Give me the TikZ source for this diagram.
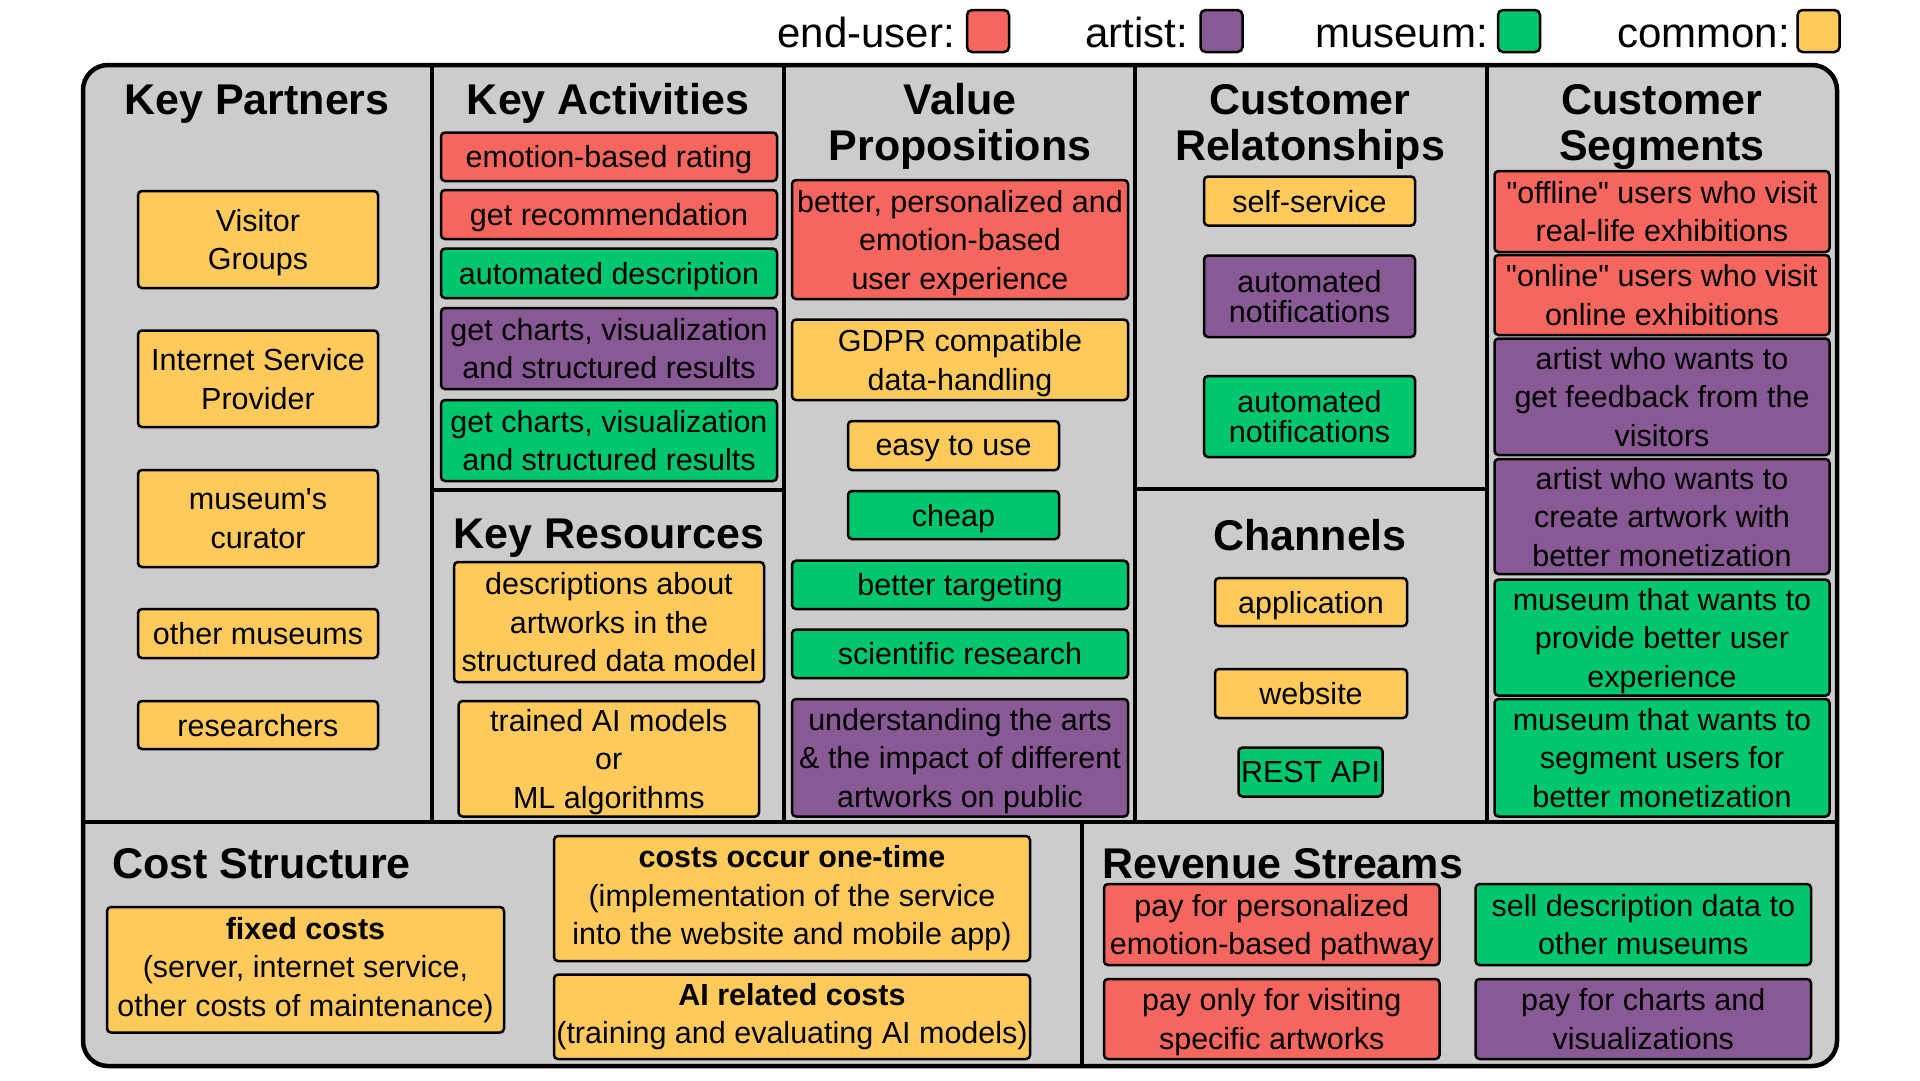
\documentclass[tikz,border=0pt]{standalone}
\usepackage{fontspec}
\newfontfamily\canvasfont{Liberation Sans}
\usepackage{tikz}

\begin{document}
\begin{tikzpicture}[x=1pt,y=-1pt,
  card/.style={draw=black, line width=2.5pt, rounded corners=4pt, align=center, inner sep=0pt, text depth=0pt, font=\canvasfont\fontsize{30.5}{38.5}\selectfont},
  cardTight/.style={card, font=\canvasfont\fontsize{30.5}{30}\selectfont},
  costCard/.style={card, text depth={}},
  cardSize/.style 2 args={minimum width=#1, minimum height=#2},
  blockTitle/.style={anchor=base, align=center, inner sep=0pt, font=\canvasfont\fontsize{43}{46}\selectfont\bfseries},
  legendText/.style={anchor=base east, inner sep=0pt, font=\canvasfont\fontsize{42}{46}\selectfont},
  legendKey/.style={draw=black, line width=2.5pt, rounded corners=5pt, minimum width=42pt, minimum height=42pt, inner sep=0pt}]
\definecolor{endUserRed}{RGB}{244,102,94}
\definecolor{artistPurple}{RGB}{137,89,149}
\definecolor{museumGreen}{RGB}{0,198,110}
\definecolor{commonYellow}{RGB}{254,202,92}
\definecolor{canvasGray}{RGB}{204,204,204}
\useasboundingbox (0,0) rectangle (1920,1080);
% legend
\foreach \keyName/\keyColor/\textX/\keyX/\keyText in {endUser/endUserRed/955/988/end-user:, artist/artistPurple/1188/1221.5/artist:, museum/museumGreen/1488/1519/museum:, common/commonYellow/1790/1818.5/common:} {
  \node[legendText] (\keyName Label) at (\textX,47) {\keyText};
  \node[legendKey, fill=\keyColor] (\keyName Key) at (\keyX,31) {};
}
% canvas frame and dividers
\draw[line width=4.5pt, fill=canvasGray, rounded corners=25pt] (83,65) rectangle (1837,1066);
\begin{scope}[line width=4.5pt]
  \foreach \x in {432,784,1135,1487}
    \draw (\x,65) -- (\x,822);
  \draw (83,822) -- (1837,822);
  \draw (432,490) -- (784,490);
  \draw (1135,489) -- (1487,489);
  \draw (1082,822) -- (1082,1066);
\end{scope}
% block titles (base = last line)
\node[blockTitle] (partnersTitle) at (257,114) {Key Partners};
\node[blockTitle] (activitiesTitle) at (608,114) {Key Activities};
\node[blockTitle] (valueTitle) at (960,160) {Value\\Propositions};
\node[blockTitle] (relationsTitle) at (1310,160) {Customer\\Relatonships};
\node[blockTitle] (segmentsTitle) at (1662,160) {Customer\\Segments};
\node[blockTitle] (resourcesTitle) at (609,548) {Key Resources};
\node[blockTitle] (channelsTitle) at (1310,550) {Channels};
\node[blockTitle, anchor=base west] (costTitle) at (112,878) {Cost Structure};
\node[blockTitle, anchor=base west] (revenueTitle) at (1102,878) {Revenue Streams};
% key partners
\node[card, fill=commonYellow, cardSize={240pt}{97pt}] (visitorGroups) at (258,239.5) {Visitor\\Groups};
\node[card, fill=commonYellow, cardSize={240pt}{96.5pt}] (ispProvider) at (258,378.75) {Internet Service\\Provider};
\node[card, fill=commonYellow, cardSize={240pt}{97pt}] (curator) at (258,518.5) {museum's\\curator};
\node[card, fill=commonYellow, cardSize={240pt}{49pt}] (otherMuseums) at (258,633.5) {other museums};
\node[card, fill=commonYellow, cardSize={240pt}{48pt}] (researchers) at (258,725) {researchers};
% key activities
\node[card, fill=endUserRed, cardSize={336pt}{48.5pt}] (rating) at (609,156.75) {emotion-based rating};
\node[card, fill=endUserRed, cardSize={336pt}{49pt}] (recommend) at (609,214.5) {get recommendation};
\node[card, fill=museumGreen, cardSize={336pt}{49.4pt}] (autoDescr) at (609,273.3) {automated description};
\node[card, fill=artistPurple, cardSize={336pt}{81pt}] (chartsArtist) at (609,348.5) {get charts, visualization\\and structured results};
\node[card, fill=museumGreen, cardSize={336pt}{81pt}] (chartsMuseum) at (609,440.5) {get charts, visualization\\and structured results};
% key resources
\node[card, fill=commonYellow, cardSize={310pt}{120pt}] (descrModel) at (609,622) {descriptions about\\artworks in the\\structured data model};
\node[card, fill=commonYellow, cardSize={300.4pt}{115.5pt}] (aiModels) at (608.8,758.75) {trained AI models\\or\\ML algorithms};
% value propositions
\node[card, fill=endUserRed, cardSize={336pt}{119pt}] (betterUX) at (960,239.5) {better, personalized and\\emotion-based\\user experience};
\node[card, fill=commonYellow, cardSize={336pt}{80.5pt}] (gdpr) at (960,359.75) {GDPR compatible\\data-handling};
\node[card, fill=commonYellow, cardSize={211pt}{49pt}] (easyUse) at (953.5,445.5) {easy to use};
\node[card, fill=museumGreen, cardSize={211pt}{48pt}] (cheap) at (953.5,515) {cheap};
\node[card, fill=museumGreen, cardSize={336pt}{48.3pt}] (targeting) at (960,584.85) {better targeting};
\node[card, fill=museumGreen, cardSize={336pt}{48.5pt}] (research) at (960,653.75) {scientific research};
\node[card, fill=artistPurple, cardSize={336pt}{117.5pt}] (understanding) at (960,757.75) {understanding the arts\\\& the impact of different\\artworks on public};
% customer relationships
\node[card, fill=commonYellow, cardSize={211pt}{49pt}] (selfService) at (1309.5,201) {self-service};
\node[cardTight, fill=artistPurple, cardSize={211pt}{81.5pt}] (notifArtist) at (1309.5,296.25) {automated\\notifications};
\node[cardTight, fill=museumGreen, cardSize={211pt}{81pt}] (notifMuseum) at (1309.5,416.5) {automated\\notifications};
% channels
\node[card, fill=commonYellow, cardSize={192pt}{48pt}] (application) at (1311,602) {application};
\node[card, fill=commonYellow, cardSize={192pt}{49pt}] (website) at (1311,693.5) {website};
\node[card, fill=museumGreen, cardSize={144pt}{49pt}] (restApi) at (1310.5,772) {REST API};
% customer segments
\node[card, fill=endUserRed, cardSize={335pt}{81pt}] (offline) at (1662,211.5) {"offline" users who visit\\real-life exhibitions};
\node[card, fill=endUserRed, cardSize={335pt}{80pt}] (online) at (1662,295) {"online" users who visit\\online exhibitions};
\node[card, fill=artistPurple, cardSize={335pt}{116.5pt}] (artistFeedback) at (1662,396.75) {artist who wants to\\get feedback from the\\visitors};
\node[card, fill=artistPurple, cardSize={335pt}{115pt}] (artistMonetize) at (1662,516.5) {artist who wants to\\create artwork with\\better monetization};
\node[card, fill=museumGreen, cardSize={335pt}{116pt}] (museumUX) at (1662,637.6) {museum that wants to\\provide better user\\experience};
\node[card, fill=museumGreen, cardSize={335pt}{117.5pt}] (museumSegment) at (1662,757.75) {museum that wants to\\segment users for\\better monetization};
% cost structure
\node[costCard, fill=commonYellow, cardSize={397pt}{125.5pt}] (fixedCosts) at (305.5,969.75) {\textbf{fixed costs}\\(server, internet service,\\other costs of maintenance)};
\node[costCard, fill=commonYellow, cardSize={476pt}{125pt}] (oneTime) at (792,898.5) {\textbf{costs occur one-time}\\(implementation of the service\\into the website and mobile app)};
\node[costCard, fill=commonYellow, cardSize={476pt}{84.4pt}] (aiCosts) at (792,1016.8) {\textbf{AI related costs}\\(training and evaluating AI models)};
% revenue streams
\node[card, fill=endUserRed, cardSize={335.5pt}{81pt}] (payPathway) at (1271.75,924.5) {pay for personalized\\emotion-based pathway};
\node[card, fill=museumGreen, cardSize={335.4pt}{81pt}] (sellData) at (1643.3,924.5) {sell description data to\\other museums};
\node[card, fill=endUserRed, cardSize={335.5pt}{80pt}] (payArtworks) at (1271.75,1019) {pay only for visiting\\specific artworks};
\node[card, fill=artistPurple, cardSize={335.4pt}{80pt}] (payCharts) at (1643.3,1019) {pay for charts and\\visualizations};
\end{tikzpicture}
\end{document}
